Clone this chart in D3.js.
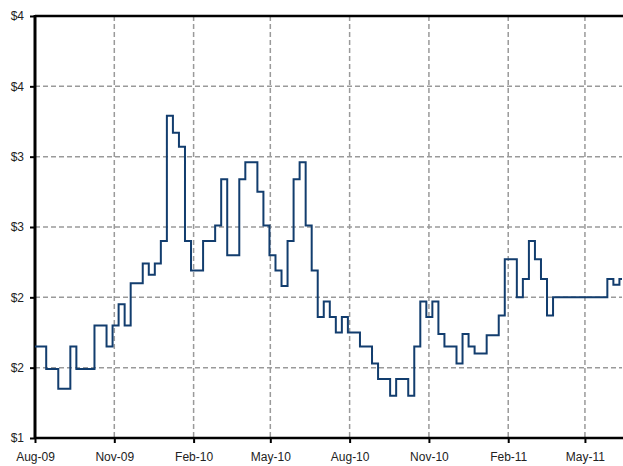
<!DOCTYPE html>
<html>
<head>
<meta charset="utf-8">
<title>Weekly price</title>
<style>
    body { margin: 0; background: #fff; }
    svg text { font-family: "Liberation Sans", Arial, sans-serif; font-size: 12px; fill: #222; }
</style>
</head>
<body>
<script src="https://cdn.jsdelivr.net/npm/d3@7"></script>
<script>
    // change points of the weekly series (step after each date)
    var dates = ["2009-07-31", "2009-08-14", "2009-08-28", "2009-09-11", "2009-09-18", "2009-10-09",
        "2009-10-23", "2009-10-30", "2009-11-06", "2009-11-13", "2009-11-20", "2009-12-04",
        "2009-12-11", "2009-12-18", "2009-12-25", "2010-01-01", "2010-01-08", "2010-01-15",
        "2010-01-22", "2010-01-29", "2010-02-12", "2010-02-26", "2010-03-05", "2010-03-12",
        "2010-03-26", "2010-04-02", "2010-04-16", "2010-04-23", "2010-04-30", "2010-05-07",
        "2010-05-14", "2010-05-21", "2010-05-28", "2010-06-04", "2010-06-11", "2010-06-18",
        "2010-06-25", "2010-07-02", "2010-07-09", "2010-07-16", "2010-07-23", "2010-07-30",
        "2010-08-13", "2010-08-27", "2010-09-03", "2010-09-17", "2010-09-24", "2010-10-08",
        "2010-10-15", "2010-10-22", "2010-10-29", "2010-11-05", "2010-11-12", "2010-11-19",
        "2010-12-03", "2010-12-10", "2010-12-17", "2010-12-24", "2011-01-07", "2011-01-21",
        "2011-01-28", "2011-02-11", "2011-02-18", "2011-02-25", "2011-03-04", "2011-03-11",
        "2011-03-18", "2011-03-25", "2011-05-27", "2011-06-03", "2011-06-10", "2011-06-17"];
    var prices = [1.65, 1.49, 1.35, 1.65, 1.49, 1.80,
        1.65, 1.80, 1.95, 1.80, 2.10, 2.24,
        2.16, 2.24, 2.40, 3.29, 3.17, 3.07,
        2.40, 2.19, 2.40, 2.51, 2.84, 2.30,
        2.84, 2.96, 2.75, 2.51, 2.30, 2.19,
        2.08, 2.40, 2.84, 2.96, 2.51, 2.19,
        1.86, 1.97, 1.86, 1.75, 1.86, 1.75,
        1.65, 1.53, 1.42, 1.30, 1.42, 1.30,
        1.65, 1.97, 1.86, 1.97, 1.74, 1.65,
        1.53, 1.74, 1.65, 1.60, 1.73, 1.87,
        2.27, 2.00, 2.13, 2.40, 2.27, 2.13,
        1.87, 2.00, 2.13, 2.09, 2.13, 2.13];

    var xTicks = ["2009-08-01", "2009-11-01", "2010-02-01", "2010-05-01",
        "2010-08-01", "2010-11-01", "2011-02-01", "2011-05-01"];
    var yTicks = [1, 1.5, 2, 2.5, 3, 3.5, 4];
    var yTickLabels = ["$1", "$2", "$2", "$3", "$3", "$4", "$4"];

    var width = 623, height = 466;
    var margin = { top: 16, right: 1, bottom: 28, left: 35 };
    var parse = d3.timeParse("%Y-%m-%d");

    var data = dates.map(function (d, i) {
        return { date: parse(d), price: prices[i] };
    });

    var x = d3.scaleTime()
        .domain([parse("2009-08-01"), parse("2011-06-13")])
        .range([margin.left, width - margin.right]);
    var y = d3.scaleLinear()
        .domain([1, 4])
        .range([height - margin.bottom, margin.top]);

    var svg = d3.select("body").append("svg")
        .attr("width", width)
        .attr("height", height);

    svg.append("clipPath").attr("id", "plot")
        .append("rect")
        .attr("x", margin.left).attr("y", margin.top - 2)
        .attr("width", width - margin.left - margin.right)
        .attr("height", height - margin.top - margin.bottom + 2);

    // dashed grid
    svg.append("g").selectAll("line")
        .data(yTicks.slice(1, -1))
        .enter().append("line")
        .attr("x1", margin.left).attr("x2", width - margin.right)
        .attr("y1", function (d) { return y(d); })
        .attr("y2", function (d) { return y(d); })
        .attr("stroke", "#9a9a9a").attr("stroke-width", 1.5)
        .attr("stroke-dasharray", "5,3");
    svg.append("g").selectAll("line")
        .data(xTicks.slice(1).map(parse))
        .enter().append("line")
        .attr("x1", function (d) { return x(d); })
        .attr("x2", function (d) { return x(d); })
        .attr("y1", margin.top).attr("y2", height - margin.bottom)
        .attr("stroke", "#9a9a9a").attr("stroke-width", 1.5)
        .attr("stroke-dasharray", "5,3");

    // axes
    var yAxis = d3.axisLeft(y)
        .tickValues(yTicks)
        .tickFormat(function (d, i) { return yTickLabels[i]; })
        .tickSize(5).tickPadding(6);
    var gy = svg.append("g")
        .attr("transform", "translate(" + margin.left + ",0)")
        .call(yAxis);

    var xAxis = d3.axisBottom(x)
        .tickValues(xTicks.map(parse))
        .tickFormat(d3.timeFormat("%b-%y"))
        .tickSize(5).tickPadding(9);
    var gx = svg.append("g")
        .attr("transform", "translate(0," + (height - margin.bottom) + ")")
        .call(xAxis);

    [gx, gy].forEach(function (g) {
        g.selectAll(".domain").remove();
        g.selectAll(".tick line").attr("stroke", "#000").attr("stroke-width", 2);
        g.selectAll(".tick text").style("font-size", "12px")
            .style("font-family", "'Liberation Sans', Arial, sans-serif").attr("fill", "#222");
    });

    // axis lines and top border
    svg.append("line")
        .attr("x1", margin.left).attr("x2", margin.left)
        .attr("y1", margin.top - 1).attr("y2", height - margin.bottom + 1)
        .attr("stroke", "#000").attr("stroke-width", 3);
    svg.append("line")
        .attr("x1", margin.left).attr("x2", width)
        .attr("y1", height - margin.bottom).attr("y2", height - margin.bottom)
        .attr("stroke", "#000").attr("stroke-width", 2.5);
    svg.append("line")
        .attr("x1", margin.left).attr("x2", width)
        .attr("y1", margin.top).attr("y2", margin.top)
        .attr("stroke", "#000").attr("stroke-width", 2.5);

    var line = d3.line()
        .curve(d3.curveStepAfter)
        .x(function (d) { return x(d.date); })
        .y(function (d) { return y(d.price); });

    svg.append("path")
        .datum(data)
        .attr("clip-path", "url(#plot)")
        .attr("fill", "none")
        .attr("stroke", "#123d6e")
        .attr("stroke-width", 2)
        .attr("d", line);
</script>
</body>
</html>
